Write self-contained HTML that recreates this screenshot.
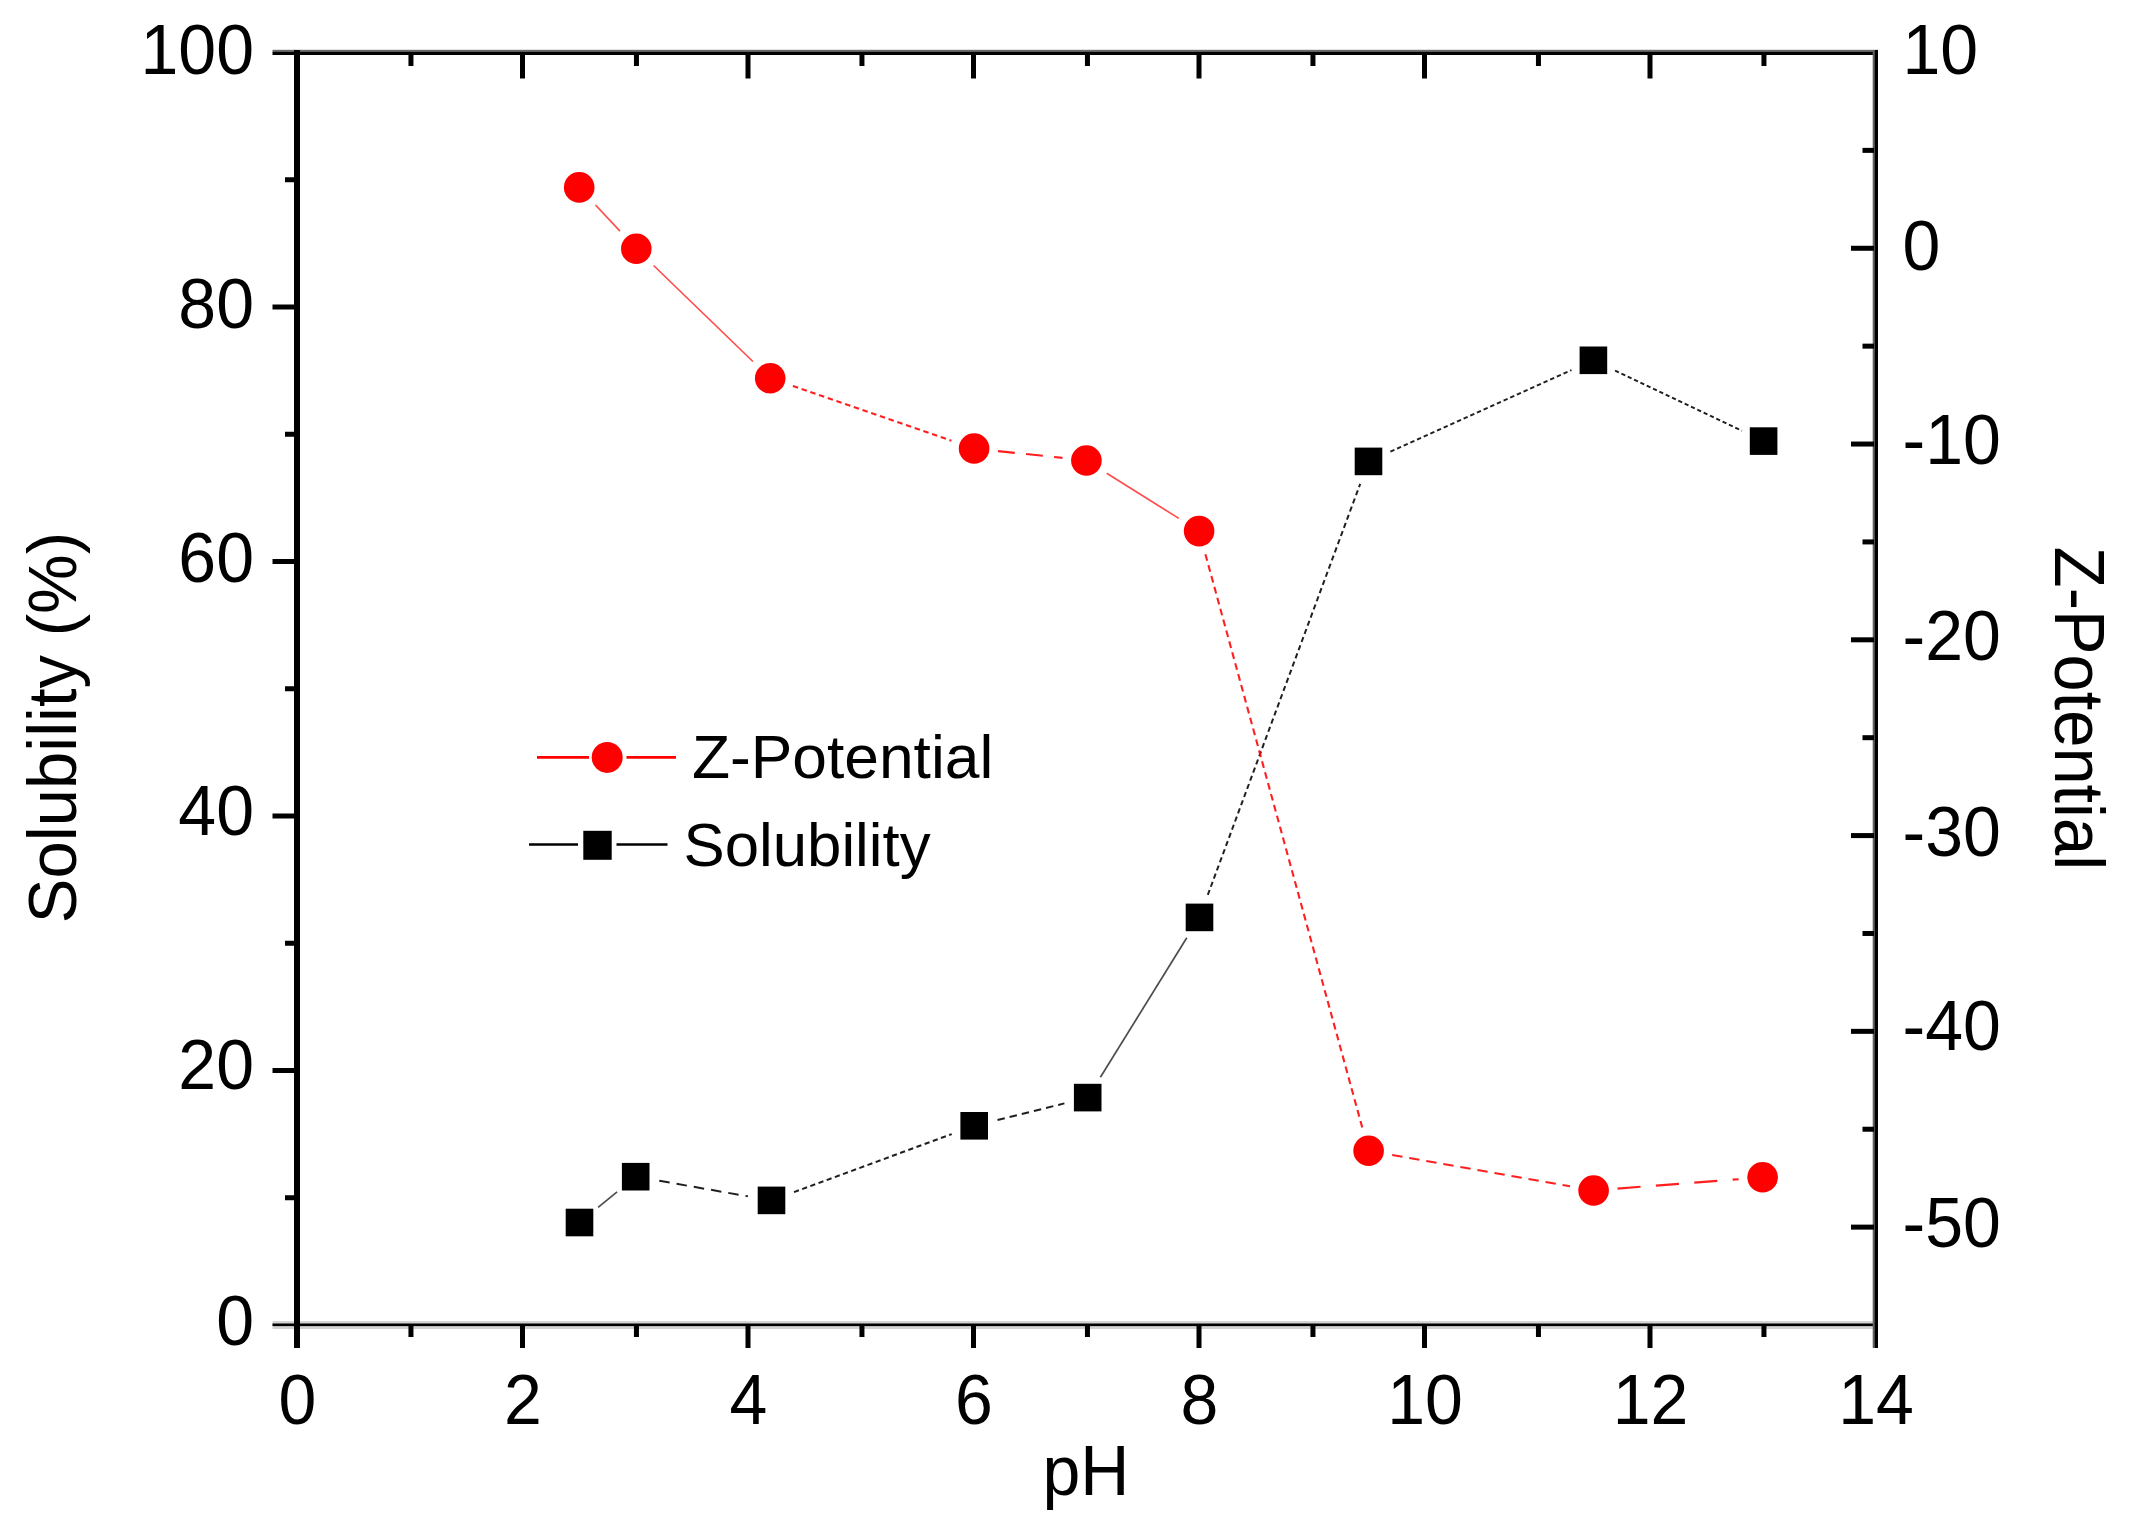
<!DOCTYPE html>
<html lang="en"><head><meta charset="utf-8"><title>Solubility and Z-Potential vs pH</title>
<style>html,body{margin:0;padding:0;background:#fff;}body{width:2134px;height:1534px;overflow:hidden;}svg{display:block;}text{font-family:"Liberation Sans",sans-serif;fill:#000;}.t{font-size:68px;}.lg{font-size:62px;}</style></head><body>
<svg width="2134" height="1534" viewBox="0 0 2134 1534">
<rect x="0" y="0" width="2134" height="1534" fill="#ffffff"/>
<rect x="272.50" y="49.80" width="1605.50" height="2.40" fill="#6a6a6a"/>
<rect x="272.50" y="51.90" width="1605.50" height="3.10" fill="#000"/>
<rect x="272.50" y="1321.10" width="1605.50" height="7.90" fill="#d2d2d2"/>
<rect x="272.50" y="1323.50" width="1605.50" height="2.60" fill="#000"/>
<rect x="294.00" y="50.00" width="6.00" height="1298.00" fill="#000"/>
<rect x="1872.70" y="50.00" width="2.40" height="1298.00" fill="#606060"/>
<rect x="1874.80" y="50.00" width="3.20" height="1298.00" fill="#000"/>
<rect x="285.00" y="1195.25" width="10.00" height="5.00" fill="#000"/>
<rect x="272.50" y="1068.00" width="22.50" height="5.00" fill="#000"/>
<rect x="285.00" y="940.75" width="10.00" height="5.00" fill="#000"/>
<rect x="272.50" y="813.50" width="22.50" height="5.00" fill="#000"/>
<rect x="285.00" y="686.25" width="10.00" height="5.00" fill="#000"/>
<rect x="272.50" y="559.00" width="22.50" height="5.00" fill="#000"/>
<rect x="285.00" y="431.75" width="10.00" height="5.00" fill="#000"/>
<rect x="272.50" y="304.50" width="22.50" height="5.00" fill="#000"/>
<rect x="285.00" y="177.25" width="10.00" height="5.00" fill="#000"/>
<rect x="1851.00" y="1224.62" width="23.00" height="5.00" fill="#000"/>
<rect x="1862.50" y="1126.73" width="11.50" height="5.00" fill="#000"/>
<rect x="1851.00" y="1028.85" width="23.00" height="5.00" fill="#000"/>
<rect x="1862.50" y="930.96" width="11.50" height="5.00" fill="#000"/>
<rect x="1851.00" y="833.08" width="23.00" height="5.00" fill="#000"/>
<rect x="1862.50" y="735.19" width="11.50" height="5.00" fill="#000"/>
<rect x="1851.00" y="637.31" width="23.00" height="5.00" fill="#000"/>
<rect x="1862.50" y="539.42" width="11.50" height="5.00" fill="#000"/>
<rect x="1851.00" y="441.54" width="23.00" height="5.00" fill="#000"/>
<rect x="1862.50" y="343.65" width="11.50" height="5.00" fill="#000"/>
<rect x="1851.00" y="245.77" width="23.00" height="5.00" fill="#000"/>
<rect x="1862.50" y="147.88" width="11.50" height="5.00" fill="#000"/>
<rect x="408.45" y="1325.00" width="5.00" height="12.00" fill="#000"/>
<rect x="408.45" y="52.50" width="5.00" height="13.50" fill="#000"/>
<rect x="520.00" y="1325.00" width="5.00" height="23.00" fill="#000"/>
<rect x="520.00" y="52.50" width="5.00" height="26.00" fill="#000"/>
<rect x="633.95" y="1325.00" width="5.00" height="12.00" fill="#000"/>
<rect x="633.95" y="52.50" width="5.00" height="13.50" fill="#000"/>
<rect x="745.50" y="1325.00" width="5.00" height="23.00" fill="#000"/>
<rect x="745.50" y="52.50" width="5.00" height="26.00" fill="#000"/>
<rect x="859.45" y="1325.00" width="5.00" height="12.00" fill="#000"/>
<rect x="859.45" y="52.50" width="5.00" height="13.50" fill="#000"/>
<rect x="971.00" y="1325.00" width="5.00" height="23.00" fill="#000"/>
<rect x="971.00" y="52.50" width="5.00" height="26.00" fill="#000"/>
<rect x="1084.95" y="1325.00" width="5.00" height="12.00" fill="#000"/>
<rect x="1084.95" y="52.50" width="5.00" height="13.50" fill="#000"/>
<rect x="1196.50" y="1325.00" width="5.00" height="23.00" fill="#000"/>
<rect x="1196.50" y="52.50" width="5.00" height="26.00" fill="#000"/>
<rect x="1310.45" y="1325.00" width="5.00" height="12.00" fill="#000"/>
<rect x="1310.45" y="52.50" width="5.00" height="13.50" fill="#000"/>
<rect x="1422.00" y="1325.00" width="5.00" height="23.00" fill="#000"/>
<rect x="1422.00" y="52.50" width="5.00" height="26.00" fill="#000"/>
<rect x="1535.95" y="1325.00" width="5.00" height="12.00" fill="#000"/>
<rect x="1535.95" y="52.50" width="5.00" height="13.50" fill="#000"/>
<rect x="1647.50" y="1325.00" width="5.00" height="23.00" fill="#000"/>
<rect x="1647.50" y="52.50" width="5.00" height="26.00" fill="#000"/>
<rect x="1761.45" y="1325.00" width="5.00" height="12.00" fill="#000"/>
<rect x="1761.45" y="52.50" width="5.00" height="13.50" fill="#000"/>
<text class="t" transform="translate(254.00,1344.60) scale(1.0000,1.0360)" text-anchor="end">0</text>
<text class="t" transform="translate(254.00,1088.90) scale(1.0000,1.0360)" text-anchor="end">20</text>
<text class="t" transform="translate(254.00,835.30) scale(1.0000,1.0360)" text-anchor="end">40</text>
<text class="t" transform="translate(254.00,582.30) scale(1.0000,1.0360)" text-anchor="end">60</text>
<text class="t" transform="translate(254.00,327.60) scale(1.0000,1.0360)" text-anchor="end">80</text>
<text class="t" transform="translate(254.00,73.70) scale(1.0000,1.0360)" text-anchor="end">100</text>
<text class="t" transform="translate(1902.50,1247.10) scale(1.0000,1.0360)" text-anchor="start">-50</text>
<text class="t" transform="translate(1902.50,1050.10) scale(1.0000,1.0360)" text-anchor="start">-40</text>
<text class="t" transform="translate(1902.50,856.10) scale(1.0000,1.0360)" text-anchor="start">-30</text>
<text class="t" transform="translate(1902.50,659.50) scale(1.0000,1.0360)" text-anchor="start">-20</text>
<text class="t" transform="translate(1902.50,464.40) scale(1.0000,1.0360)" text-anchor="start">-10</text>
<text class="t" transform="translate(1902.50,269.70) scale(1.0000,1.0360)" text-anchor="start">0</text>
<text class="t" transform="translate(1902.50,73.70) scale(1.0000,1.0360)" text-anchor="start">10</text>
<text class="t" transform="translate(297.50,1423.50) scale(1.0000,1.0360)" text-anchor="middle">0</text>
<text class="t" transform="translate(523.00,1423.50) scale(1.0000,1.0360)" text-anchor="middle">2</text>
<text class="t" transform="translate(748.50,1423.50) scale(1.0000,1.0360)" text-anchor="middle">4</text>
<text class="t" transform="translate(974.00,1423.50) scale(1.0000,1.0360)" text-anchor="middle">6</text>
<text class="t" transform="translate(1199.50,1423.50) scale(1.0000,1.0360)" text-anchor="middle">8</text>
<text class="t" transform="translate(1425.00,1423.50) scale(1.0000,1.0360)" text-anchor="middle">10</text>
<text class="t" transform="translate(1650.50,1423.50) scale(1.0000,1.0360)" text-anchor="middle">12</text>
<text class="t" transform="translate(1876.00,1423.50) scale(1.0000,1.0360)" text-anchor="middle">14</text>
<text class="t" transform="translate(1086.00,1495.30) scale(1.0000,1.0450)" text-anchor="middle">pH</text>
<text class="t" transform="translate(76.00,727.60) rotate(-90) scale(0.9860,1.0200)" text-anchor="middle">Solubility (%)</text>
<text class="t" transform="translate(2055.00,708.40) rotate(90) scale(0.9830,1.0300)" text-anchor="middle">Z-Potential</text>
<line x1="598.1" y1="1207.3" x2="617.1" y2="1191.9" stroke="#000" stroke-width="1.70" stroke-opacity="0.7"/>
<line x1="659.3" y1="1180.8" x2="747.9" y2="1196.3" stroke="#000" stroke-width="2.00" stroke-opacity="0.88" stroke-dasharray="10.5 7.0"/>
<line x1="794.0" y1="1192.1" x2="951.7" y2="1134.1" stroke="#000" stroke-width="2.00" stroke-opacity="0.88" stroke-dasharray="5.2 3.5"/>
<line x1="997.5" y1="1120.0" x2="1064.4" y2="1103.4" stroke="#000" stroke-width="2.00" stroke-opacity="0.88" stroke-dasharray="7.5 5.0"/>
<line x1="1100.4" y1="1077.2" x2="1186.8" y2="937.8" stroke="#000" stroke-width="1.70" stroke-opacity="0.7"/>
<line x1="1207.8" y1="894.9" x2="1360.2" y2="483.9" stroke="#000" stroke-width="2.00" stroke-opacity="0.88" stroke-dasharray="5.2 3.5"/>
<line x1="1390.4" y1="451.6" x2="1571.5" y2="370.1" stroke="#000" stroke-width="2.00" stroke-opacity="0.88" stroke-dasharray="4.4 2.9"/>
<line x1="1615.1" y1="370.6" x2="1741.9" y2="430.8" stroke="#000" stroke-width="2.00" stroke-opacity="0.88" stroke-dasharray="4.2 2.8"/>
<line x1="595.5" y1="205.0" x2="620.0" y2="231.2" stroke="#ff0000" stroke-width="1.70" stroke-opacity="0.7"/>
<line x1="653.6" y1="265.5" x2="752.9" y2="361.5" stroke="#ff0000" stroke-width="1.70" stroke-opacity="0.7"/>
<line x1="792.9" y1="386.0" x2="951.4" y2="440.7" stroke="#ff0000" stroke-width="2.10" stroke-opacity="0.88" stroke-dasharray="5.5 3.7"/>
<line x1="998.0" y1="451.1" x2="1062.5" y2="457.9" stroke="#ff0000" stroke-width="2.10" stroke-opacity="0.88" stroke-dasharray="16.9 11.3"/>
<line x1="1106.7" y1="473.2" x2="1178.8" y2="518.4" stroke="#ff0000" stroke-width="1.70" stroke-opacity="0.7"/>
<line x1="1205.4" y1="554.2" x2="1362.3" y2="1127.7" stroke="#ff0000" stroke-width="2.10" stroke-opacity="0.88" stroke-dasharray="6.8 4.5"/>
<line x1="1392.2" y1="1155.0" x2="1570.0" y2="1186.3" stroke="#ff0000" stroke-width="2.10" stroke-opacity="0.88" stroke-dasharray="10.4 6.9"/>
<line x1="1617.5" y1="1188.6" x2="1738.7" y2="1179.2" stroke="#ff0000" stroke-width="2.10" stroke-opacity="0.88" stroke-dasharray="23.1 15.4"/>
<rect x="565.70" y="1208.70" width="27.60" height="27.60" fill="#000"/>
<rect x="621.90" y="1162.90" width="27.60" height="27.60" fill="#000"/>
<rect x="757.70" y="1186.60" width="27.60" height="27.60" fill="#000"/>
<rect x="960.40" y="1112.00" width="27.60" height="27.60" fill="#000"/>
<rect x="1073.90" y="1083.80" width="27.60" height="27.60" fill="#000"/>
<rect x="1185.70" y="903.60" width="27.60" height="27.60" fill="#000"/>
<rect x="1354.70" y="447.60" width="27.60" height="27.60" fill="#000"/>
<rect x="1579.60" y="346.50" width="27.60" height="27.60" fill="#000"/>
<rect x="1749.80" y="427.30" width="27.60" height="27.60" fill="#000"/>
<circle cx="579.2" cy="187.4" r="15.3" fill="#ff0000"/>
<circle cx="636.3" cy="248.8" r="15.3" fill="#ff0000"/>
<circle cx="770.2" cy="378.2" r="15.3" fill="#ff0000"/>
<circle cx="974.1" cy="448.5" r="15.3" fill="#ff0000"/>
<circle cx="1086.4" cy="460.5" r="15.3" fill="#ff0000"/>
<circle cx="1199.1" cy="531.1" r="15.3" fill="#ff0000"/>
<circle cx="1368.6" cy="1150.8" r="15.3" fill="#ff0000"/>
<circle cx="1593.6" cy="1190.5" r="15.3" fill="#ff0000"/>
<circle cx="1762.6" cy="1177.3" r="15.3" fill="#ff0000"/>
<line x1="537" y1="757.4" x2="589" y2="757.4" stroke="#ff0000" stroke-width="2.7"/>
<line x1="626.5" y1="757.4" x2="676" y2="757.4" stroke="#ff0000" stroke-width="2.7"/>
<circle cx="607.2" cy="757.4" r="15.5" fill="#ff0000"/>
<text class="lg" transform="translate(692.00,777.70) scale(1.0050,1.0000)" text-anchor="start">Z-Potential</text>
<line x1="529" y1="844.5" x2="578" y2="844.5" stroke="#000" stroke-width="2.7"/>
<line x1="616.5" y1="844.5" x2="667.5" y2="844.5" stroke="#000" stroke-width="2.7"/>
<rect x="583.30" y="830.80" width="28.40" height="29.00" fill="#000"/>
<text class="lg" transform="translate(683.50,866.30) scale(0.9960,1.0000)" text-anchor="start">Solubility</text>
</svg></body></html>
